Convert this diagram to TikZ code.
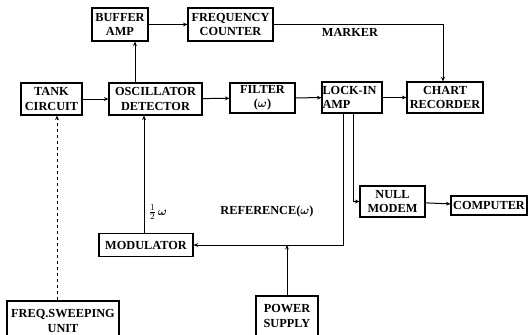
\documentclass[tikz,border=0pt]{standalone}
\usepackage{amsmath}
\usepackage{fontspec}
\setmainfont{Liberation Serif}
\usetikzlibrary{arrows.meta}
\tikzset{
  blk/.style={draw, line width=1.1pt, inner sep=0.5pt, align=center,
    font=\bfseries\fontsize{12.3}{14.5}\selectfont},
  lbl/.style={inner sep=0pt, font=\bfseries\fontsize{12.3}{14.5}\selectfont},
  conn/.style={line width=1pt, -{Stealth[length=4.5pt,width=3.8pt]}},
}
\begin{document}
\begin{tikzpicture}[x=1pt,y=-1pt]
\useasboundingbox (0,0) rectangle (528,335);
\node[blk, minimum width=56, minimum height=33] (buf) at (120,24.5) {BUFFER\\AMP};
\node[blk, minimum width=85, minimum height=33] (fc) at (230.5,24.5) {FREQUENCY\\COUNTER};
\node[blk, minimum width=61, minimum height=32] (tank) at (51.5,99) {TANK\\CIRCUIT};
\node[blk, minimum width=93, minimum height=32] (osc) at (155.5,99) {OSCILLATOR\\DETECTOR};
\node[blk, minimum width=65, minimum height=30] (fil) at (262.5,98) {FILTER\\($\boldsymbol{\omega}$)};
\node[blk, minimum width=60, minimum height=31, text width=59pt, align=left] (li) at (352,97.5) {LOCK-IN\\AMP};
\node[blk, minimum width=76, minimum height=31] (cr) at (445,97.5) {CHART\\RECORDER};
\node[blk, minimum width=65, minimum height=31] (nm) at (392.5,201.5) {NULL\\MODEM};
\node[blk, minimum width=76, minimum height=19] (cmp) at (489,205.5) {COMPUTER};
\node[blk, minimum width=94, minimum height=23] (mod) at (146,245) {MODULATOR};
\node[blk, minimum width=112, minimum height=40] (sw) at (63,321) {FREQ.SWEEPING\\UNIT};
\node[blk, minimum width=62, minimum height=40] (ps) at (287,316) {POWER\\SUPPLY};

\node[lbl] (mk) at (350,32) {MARKER};
\node[lbl] (half) at (158,212) {$\textstyle\frac{1}{2}\,\boldsymbol{\omega}$};
\node[lbl] (ref) at (267,212) {REFERENCE($\boldsymbol{\omega}$)};

\draw[conn] (buf) -- (fc);
\draw[conn] (fc.east) -| ([xshift=-2pt]cr.north);
\draw[conn] (tank) -- (osc);
\draw[conn] (osc) -- (fil);
\draw[conn] (fil) -- (li);
\draw[conn] (li) -- (cr);
\draw[conn] (nm) -- (cmp);
\draw[conn] ([xshift=-20.5pt]osc.north) -- ([xshift=-20.5pt]osc.north |- buf.south);
\draw[conn] ([xshift=-2pt]mod.north) -- ([xshift=-2pt]mod.north |- osc.south);
\draw[conn] ([xshift=1pt]li.south) |- (nm.west);
\draw[conn] ([xshift=-9pt]li.south) |- (mod.east);
\coordinate (j) at (ps.north |- mod.east);
\draw[conn] (ps.north) -- (j);
\draw[conn, dashed] ([xshift=-6pt]sw.north) -- ([xshift=-6pt]sw.north |- tank.south);
\end{tikzpicture}
\end{document}
